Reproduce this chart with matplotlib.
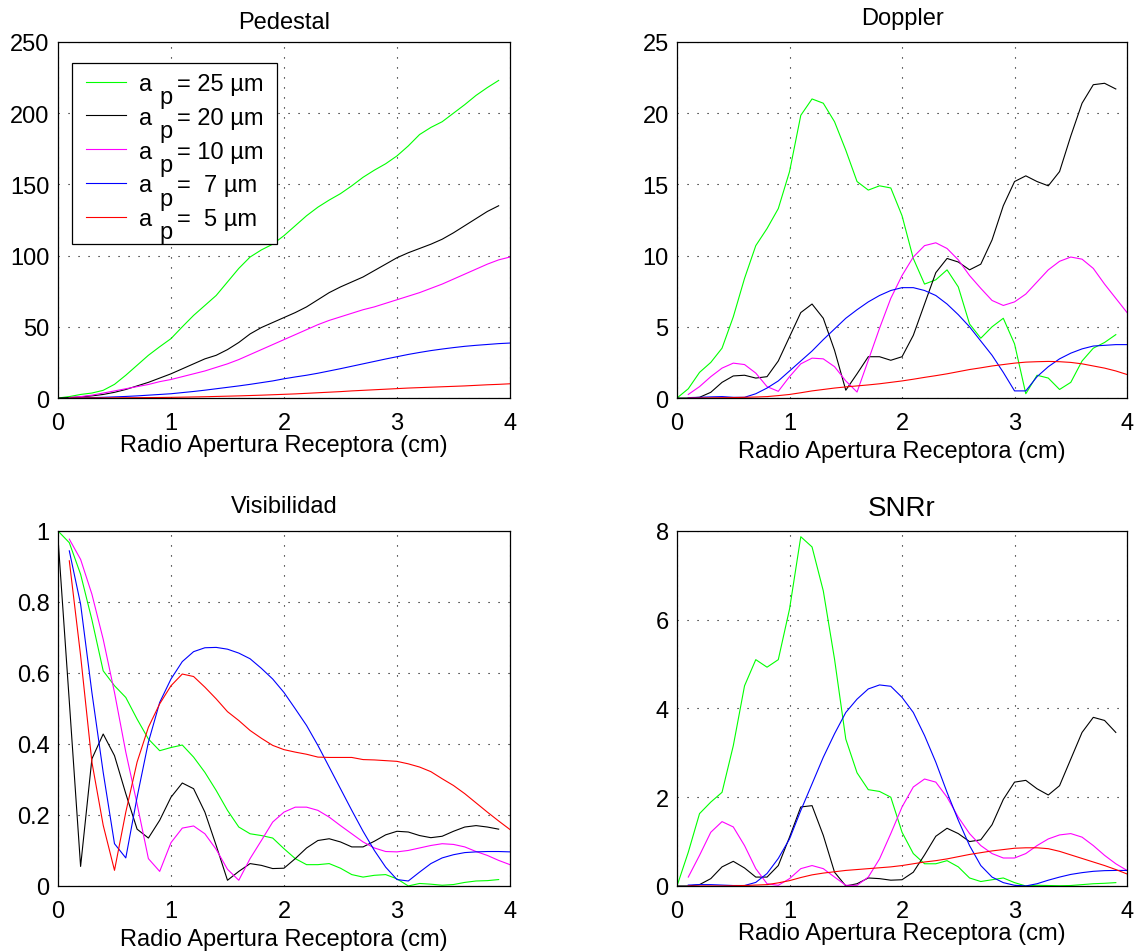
import numpy as np
import matplotlib
matplotlib.use('Agg')
import matplotlib.pyplot as plt
from matplotlib.patches import Rectangle

plt.rcParams['font.family'] = ['Liberation Sans', 'DejaVu Sans']

# radio de la apertura receptora (cm), paso de 0.1
radio = np.arange(0, 41) / 10.0

# leyenda al estilo MATLAB: "a" y el subindice "p" se escriben aparte
etiquetas = ['= 25 µm', '= 20 µm', '= 10 µm', '=  7 µm', '=  5 µm']
colores = ['#00ff00', 'black', '#ff00ff', '#0000ff', '#ff0000']
# indice del primer punto de cada curva (0 -> r=0, 1 -> r=0.1)
inicio = [0, 0, 1, 1, 1]

# Pedestal
ped_25 = [0, 1, 2.5, 3.5, 5.4, 9.6, 16, 23, 30, 36, 41.7, 50, 58, 65, 72, 81.5, 91, 99, 104, 108,
          114, 121, 128, 134, 139, 143.5, 149, 155, 160, 164.5, 170, 177, 185, 190, 194, 200, 206, 212.5, 218, 223]
ped_20 = [0, 0.3, 0.8, 1.5, 2.5, 4, 6, 8.5, 11, 14, 17, 20.5, 24, 27.5, 30, 34, 39, 45, 49.5, 53,
          56.5, 60, 64, 69, 74, 78, 81.5, 85, 89.5, 94, 98.5, 102, 105, 108, 111.5, 116, 121, 126, 131, 135]
ped_10 = [0.3, 1, 2, 3.5, 5, 6.5, 8, 9.5, 11.5, 13, 15, 17, 19, 21.5, 24, 27, 30.5, 34, 37.5, 41,
          44.5, 48, 51.5, 54.5, 57, 59.5, 62, 64, 66.5, 69, 71.5, 74, 77, 80, 83.5, 87, 90.5, 94, 97, 99]
ped_7 = [0, 0.1, 0.3, 0.5, 0.8, 1.1, 1.5, 2, 2.5, 3, 3.8, 4.6, 5.5, 6.5, 7.5, 8.5, 9.6, 10.8, 12, 13.5,
         14.8, 16, 17.4, 19, 20.6, 22.3, 24, 25.7, 27.4, 29, 30.6, 32, 33.3, 34.4, 35.4, 36.3, 37, 37.6, 38.2, 38.6]
ped_5 = [0, 0.02, 0.05, 0.08, 0.12, 0.17, 0.23, 0.3, 0.38, 0.47, 0.6, 0.75, 0.9, 1.1, 1.3, 1.5, 1.75, 2.0, 2.3, 2.6,
         2.9, 3.3, 3.7, 4.1, 4.5, 5.0, 5.4, 5.8, 6.2, 6.6, 7.0, 7.3, 7.6, 7.9, 8.2, 8.5, 8.9, 9.3, 9.6, 10.0]

# Doppler
dop_25 = [0, 0.65, 1.8, 2.5, 3.5, 5.7, 8.4, 10.7, 11.9, 13.3, 15.9, 19.85, 21.0, 20.7, 19.4, 17.4, 15.2, 14.6, 14.9, 14.75,
          12.8, 9.8, 8.0, 8.3, 9.0, 7.8, 5.2, 4.2, 5.0, 5.6, 3.8, 0.3, 1.6, 1.4, 0.6, 1.1, 2.6, 3.5, 3.9, 4.45]
dop_20 = [0, 0, 0.05, 0.4, 1.1, 1.55, 1.6, 1.4, 1.5, 2.6, 4.3, 6.0, 6.6, 5.6, 3.35, 0.55, 1.7, 2.9, 2.9, 2.65,
          2.9, 4.4, 6.6, 8.8, 9.8, 9.55, 9.0, 9.4, 11.1, 13.5, 15.2, 15.6, 15.2, 14.9, 15.9, 18.4, 20.7, 22.0, 22.1, 21.7]
dop_10 = [0.25, 0.8, 1.5, 2.1, 2.45, 2.35, 1.75, 0.8, 0.47, 1.5, 2.4, 2.8, 2.75, 2.2, 1.2, 0.42, 2.65, 4.9, 7.0, 8.6,
          9.9, 10.7, 10.9, 10.5, 9.7, 8.6, 7.7, 6.85, 6.5, 6.75, 7.3, 8.15, 9.0, 9.6, 9.9, 9.75, 9.1, 8.0, 7.0, 6.0]
dop_7 = [0.03, 0.05, 0.08, 0.1, 0.05, 0.05, 0.3, 0.7, 1.2, 1.9, 2.6, 3.3, 4.1, 4.85, 5.6, 6.2, 6.75, 7.2, 7.55, 7.75,
         7.75, 7.55, 7.2, 6.6, 5.85, 5.0, 4.0, 3.0, 1.8, 0.5, 0.5, 1.5, 2.2, 2.75, 3.15, 3.45, 3.65, 3.7, 3.75, 3.75]
dop_5 = [0, 0, 0.01, 0.02, 0.03, 0.05, 0.07, 0.1, 0.17, 0.25, 0.37, 0.5, 0.6, 0.7, 0.78, 0.85, 0.92, 1.0, 1.1, 1.2,
         1.32, 1.45, 1.57, 1.7, 1.85, 2.0, 2.12, 2.25, 2.35, 2.45, 2.52, 2.55, 2.57, 2.55, 2.5, 2.4, 2.25, 2.1, 1.9, 1.65]

# Visibilidad
vis_25 = [1.0, 0.967, 0.878, 0.75, 0.606, 0.564, 0.531, 0.47, 0.414, 0.381, 0.39, 0.397, 0.363, 0.32, 0.269, 0.213,
          0.166, 0.147, 0.142, 0.135, 0.105, 0.077, 0.06, 0.06, 0.063, 0.05, 0.032, 0.025, 0.03, 0.032, 0.02, 0.0,
          0.007, 0.005, 0.002, 0.004, 0.01, 0.014, 0.015, 0.018]
vis_20 = [0.98, 0.52, 0.055, 0.358, 0.428, 0.367, 0.26, 0.16, 0.135, 0.185, 0.25, 0.29, 0.274, 0.208, 0.114, 0.016,
          0.041, 0.063, 0.058, 0.049, 0.05, 0.077, 0.107, 0.128, 0.133, 0.124, 0.11, 0.11, 0.126, 0.144, 0.154, 0.152,
          0.142, 0.136, 0.14, 0.154, 0.166, 0.17, 0.166, 0.16]
vis_10 = [0.977, 0.92, 0.822, 0.695, 0.545, 0.377, 0.231, 0.077, 0.041, 0.122, 0.163, 0.169, 0.147, 0.103, 0.047,
          0.016, 0.077, 0.128, 0.18, 0.208, 0.222, 0.222, 0.213, 0.194, 0.17, 0.147, 0.124, 0.107, 0.097, 0.096, 0.1,
          0.107, 0.114, 0.119, 0.117, 0.11, 0.097, 0.086, 0.072, 0.06]
vis_7 = [0.944, 0.794, 0.545, 0.32, 0.119, 0.079, 0.25, 0.405, 0.517, 0.583, 0.632, 0.66, 0.671, 0.672, 0.667, 0.656,
         0.64, 0.613, 0.583, 0.545, 0.499, 0.452, 0.396, 0.335, 0.274, 0.213, 0.154, 0.1, 0.053, 0.018, 0.014, 0.039,
         0.063, 0.079, 0.088, 0.094, 0.096, 0.097, 0.097, 0.096]
vis_5 = [0.916, 0.649, 0.349, 0.171, 0.044, 0.208, 0.349, 0.447, 0.513, 0.564, 0.597, 0.59, 0.56, 0.527, 0.491, 0.466,
         0.438, 0.416, 0.396, 0.384, 0.377, 0.371, 0.363, 0.362, 0.362, 0.362, 0.356, 0.355, 0.353, 0.351, 0.344,
         0.335, 0.322, 0.302, 0.283, 0.26, 0.234, 0.208, 0.183, 0.159]

# SNRr
snr_25 = [0, 0.76, 1.63, 1.89, 2.11, 3.16, 4.51, 5.1, 4.93, 5.1, 6.24, 7.87, 7.64, 6.65, 5.11, 3.31, 2.55, 2.17, 2.13,
          2.0, 1.21, 0.73, 0.5, 0.5, 0.57, 0.43, 0.18, 0.1, 0.14, 0.18, 0.075, 0.0, 0.015, 0.01, 0.005, 0.01, 0.03,
          0.05, 0.06, 0.075]
snr_20 = [0, 0, 0.03, 0.165, 0.43, 0.555, 0.405, 0.2, 0.2, 0.46, 1.1, 1.78, 1.81, 1.14, 0.31, 0.0, 0.05, 0.18, 0.165,
          0.13, 0.14, 0.31, 0.7, 1.12, 1.3, 1.18, 1.0, 1.04, 1.38, 1.95, 2.34, 2.38, 2.19, 2.05, 2.26, 2.86, 3.46,
          3.8, 3.73, 3.46]
snr_10 = [0.2, 0.69, 1.21, 1.45, 1.33, 0.91, 0.39, 0.05, 0.015, 0.165, 0.39, 0.46, 0.39, 0.2, 0.015, 0.015, 0.2, 0.61,
          1.18, 1.78, 2.23, 2.41, 2.34, 2.0, 1.55, 1.18, 0.91, 0.73, 0.63, 0.63, 0.73, 0.91, 1.06, 1.15, 1.18, 1.1,
          0.91, 0.69, 0.5, 0.35]
snr_7 = [0.02, 0.03, 0.03, 0.02, 0.01, 0.01, 0.08, 0.28, 0.62, 1.06, 1.7, 2.3, 2.9, 3.43, 3.91, 4.21, 4.44, 4.53, 4.5,
         4.25, 3.91, 3.39, 2.79, 2.11, 1.48, 0.91, 0.46, 0.2, 0.075, 0.015, 0.0, 0.05, 0.13, 0.2, 0.26, 0.3, 0.33,
         0.345, 0.35, 0.35]
snr_5 = [0, 0, 0, 0, 0.005, 0.01, 0.02, 0.03, 0.07, 0.12, 0.19, 0.25, 0.29, 0.32, 0.35, 0.37, 0.39, 0.41, 0.43, 0.46,
         0.5, 0.54, 0.57, 0.61, 0.66, 0.71, 0.75, 0.79, 0.82, 0.85, 0.86, 0.86, 0.84, 0.78, 0.7, 0.62, 0.54, 0.46,
         0.37, 0.27]

# titulo, series, ymax, yticks, etiquetas y, posicion, tam. titulo, pad titulo, labelpad x
paneles = [
    ('Pedestal', [ped_25, ped_20, ped_10, ped_7, ped_5], 250, [0, 50, 100, 150, 200, 250], None,
     [0.0511, 0.5813, 0.3982, 0.3736], 17, 9.8, 0),
    ('Doppler', [dop_25, dop_20, dop_10, dop_7, dop_5], 25, [0, 5, 10, 15, 20, 25], None,
     [0.5965, 0.5813, 0.3965, 0.3736], 17, 13, 4.5),
    ('Visibilidad', [vis_25, vis_20, vis_10, vis_7, vis_5], 1, [0, 0.2, 0.4, 0.6, 0.8, 1],
     ['0', '0.2', '0.4', '0.6', '0.8', '1'], [0.0511, 0.0693, 0.3982, 0.3725], 17, 13.4, 4.7),
    ('SNRr', [snr_25, snr_20, snr_10, snr_7, snr_5], 8, [0, 2, 4, 6, 8], None,
     [0.5965, 0.0693, 0.3965, 0.3725], 20, 11.5, 0),
]

fig = plt.figure(figsize=(11.35, 9.53), dpi=100)

for titulo, series, ymax, yticks, ylabels, pos, tam_titulo, pad_titulo, lpad in paneles:
    ax = fig.add_axes(pos)
    for k, vals in enumerate(series):
        i0 = inicio[k]
        ax.plot(radio[i0:i0 + len(vals)], vals, color=colores[k], lw=0.8, label=etiquetas[k])
    ax.set_xlim(0, 4)
    ax.set_ylim(0, ymax)
    ax.set_xticks([0, 1, 2, 3, 4])
    ax.set_yticks(yticks)
    if ylabels:
        ax.set_yticklabels(ylabels)
    ax.tick_params(direction='in', length=0, labelsize=17)
    ax.tick_params(axis='x', pad=10)
    ax.tick_params(axis='y', pad=6)
    ax.grid(True, color='black', linestyle=(0, (1, 8)), linewidth=0.8)
    for s in ax.spines.values():
        s.set_linewidth(0.9)
    ax.set_title(titulo, fontsize=tam_titulo, pad=pad_titulo)
    ax.set_xlabel('Radio Apertura Receptora (cm)', fontsize=17, labelpad=lpad)
    if titulo == 'Pedestal':
        # marco de la leyenda (el subindice baja mas que el texto)
        ax.add_patch(Rectangle((0.032, 0.4326), 0.4524, 0.5084, transform=ax.transAxes,
                               facecolor='white', edgecolor='black', lw=0.9, zorder=4.9))
        leg = ax.legend(loc='upper left', bbox_to_anchor=(0.040, 0.941), fontsize=17, frameon=False,
                        handlelength=1.7, labelspacing=0.5, borderaxespad=0, handletextpad=2.16,
                        borderpad=0.42)
        # "a" y subindice "p" delante de cada etiqueta
        for t in leg.get_texts():
            ax.annotate('a', xy=(0, 0), xycoords=t, xytext=(-27.1, 0), textcoords='offset points',
                        fontsize=17, ha='left', va='bottom', annotation_clip=False, zorder=6)
            ax.annotate('p', xy=(0, 0), xycoords=t, xytext=(-12.9, -9.6), textcoords='offset points',
                        fontsize=17, ha='left', va='bottom', annotation_clip=False, zorder=6)

fig.savefig('out.png', dpi=100)
